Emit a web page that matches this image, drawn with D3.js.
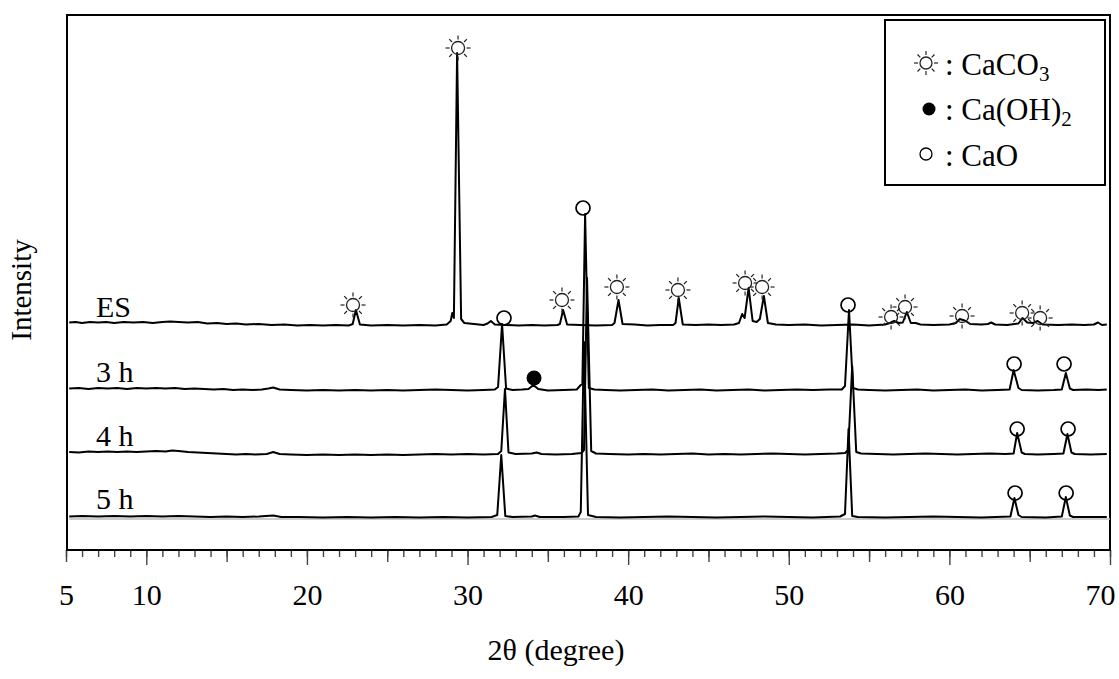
<!DOCTYPE html>
<meta charset="utf-8">
<style>
body { margin: 0; background: #fff; }
text { font-family: "Liberation Serif", "Times New Roman", serif; fill: #000; }
.trace { fill: none; stroke: #000; stroke-width: 2px; stroke-linejoin: round; }
.frame { fill: none; stroke: #000; stroke-width: 2px; }
.tick line { stroke: #444; stroke-width: 1.4px; }
</style>
<svg width="1119" height="679"></svg>
<script src="https://cdn.jsdelivr.net/npm/d3@7"></script>
<script>

// samples, stacked from top to bottom, and the offset (counts) of each baseline
var sampleNames = ["ES", "3 h", "4 h", "5 h"];
var offsets = [2250, 1600, 960, 330];

// patterns: [2theta, counts above own baseline]
var esPattern = [
  [5.2,25],[5.6,30],[6.0,20],[6.5,30],[7.0,25],[7.5,30],[8.0,20],[8.6,30],[9.2,25],[9.8,30],[10.4,20],[11.0,30],
  [11.5,35],[12.0,30],[12.6,25],[13.2,30],[13.8,15],[14.4,20],[15.0,10],[15.6,15],[16.2,5],[17.0,10],[17.8,0],
  [18.6,5],[19.4,-5],[20.2,0],[21.0,-5],[21.8,0],[22.6,-5],[22.85,10],[23.05,150],[23.3,5],[24.0,-5],[25.0,0],
  [26.0,-5],[27.0,0],[28.0,-5],[28.7,5],[28.95,40],[29.05,120],[29.15,70],[29.35,2720],[29.6,60],[29.8,20],
  [30.4,10],[31.0,0],[31.25,15],[31.45,40],[31.7,5],[32.4,0],[33.2,-5],[34.0,0],[34.8,-5],[35.6,0],[35.75,10],
  [35.95,150],[36.2,5],[37.0,0],[38.0,-5],[39.0,0],[39.15,20],[39.4,250],[39.65,10],[40.4,5],[41.2,-5],[42.0,0],
  [42.8,0],[42.95,20],[43.15,270],[43.4,5],[44.2,0],[45.0,5],[45.8,0],[46.6,5],[46.9,20],[47.1,110],[47.25,70],
  [47.5,370],[47.75,40],[48.0,30],[48.2,60],[48.45,290],[48.7,20],[49.2,5],[50.0,0],[51.0,5],[52.0,-5],[53.0,0],
  [54.0,5],[55.0,-5],[56.0,5],[56.3,20],[56.55,40],[56.85,20],[57.1,25],[57.35,130],[57.6,20],[57.9,20],[58.2,5],
  [59.0,0],[60.0,5],[60.4,20],[60.65,60],[60.95,45],[61.3,10],[62.0,5],[62.4,10],[62.6,25],[62.85,5],[63.6,0],
  [64.3,15],[64.55,70],[64.85,25],[65.2,20],[65.5,40],[65.8,5],[66.8,0],[67.6,5],[68.4,0],[69.0,5],[69.25,25],
  [69.5,0],[69.8,5]
];
var h3Pattern = [
  [5.2,15],[5.8,20],[6.4,10],[7.0,20],[7.6,15],[8.2,20],[8.8,10],[9.4,20],[10.0,15],[10.6,20],[11.2,15],[11.8,20],
  [12.4,10],[13.0,15],[13.6,10],[14.2,5],[14.8,10],[15.4,0],[16.0,5],[16.6,0],[17.2,5],[17.6,15],[17.9,25],[18.3,5],
  [19.0,0],[20.0,-5],[21.0,0],[22.0,-5],[23.0,0],[24.0,-5],[25.0,0],[26.0,-5],[27.0,0],[28.0,5],[29.0,0],[30.0,-5],
  [31.0,0],[31.7,5],[31.9,30],[32.15,660],[32.4,15],[32.8,0],[33.4,5],[33.8,10],[34.1,50],[34.4,10],[35.0,-5],
  [36.0,0],[36.8,5],[37.05,50],[37.15,60],[37.32,1760],[37.55,20],[37.9,5],[38.6,0],[39.5,-5],[40.5,0],[41.5,5],
  [42.5,-5],[43.5,0],[44.5,5],[45.5,-5],[46.5,0],[47.5,5],[48.5,-5],[49.5,0],[50.5,5],[51.5,0],[52.5,5],[53.3,5],
  [53.5,40],[53.75,800],[54.0,20],[54.3,5],[55.0,0],[56.0,-5],[57.0,0],[58.0,5],[59.0,-5],[60.0,0],[61.0,5],
  [62.0,-5],[63.0,0],[63.75,5],[64.0,200],[64.3,20],[64.5,0],[65.5,-5],[66.5,0],[67.0,5],[67.25,170],[67.5,15],
  [67.7,0],[68.5,5],[69.3,0],[69.8,5]
];
var h4Pattern = [
  [5.2,20],[5.8,15],[6.4,25],[7.0,20],[7.6,25],[8.2,20],[8.8,25],[9.4,20],[10.0,25],[10.6,30],[11.2,25],[11.6,35],
  [12.0,30],[12.6,20],[13.2,15],[13.8,10],[14.4,5],[15.0,0],[15.6,-5],[16.2,0],[16.8,-5],[17.5,0],[17.9,20],
  [18.3,0],[19.0,-5],[20.0,-10],[21.0,-5],[22.0,-10],[23.0,-5],[24.0,-10],[25.0,-5],[26.0,-10],[27.0,-5],[28.0,0],
  [29.0,-5],[30.0,0],[31.0,-5],[31.9,0],[32.1,30],[32.33,650],[32.55,15],[33.0,0],[34.0,5],[34.3,15],[34.6,0],
  [35.5,-5],[36.5,0],[37.1,10],[37.25,40],[37.44,1760],[37.7,30],[38.0,5],[38.8,0],[40.0,-5],[41.0,0],[42.0,-5],
  [43.0,0],[44.0,5],[45.0,-5],[46.0,0],[47.0,-5],[48.0,0],[49.0,5],[50.0,0],[51.0,-5],[52.0,0],[53.0,5],[53.5,10],
  [53.7,40],[53.95,880],[54.2,20],[54.5,5],[55.5,0],[56.5,-5],[57.5,0],[58.5,5],[59.5,0],[60.5,-5],[61.5,0],
  [62.5,5],[63.5,0],[64.0,5],[64.22,210],[64.5,15],[64.7,0],[65.5,-5],[66.5,0],[67.1,5],[67.35,200],[67.6,15],
  [67.8,0],[68.8,-5],[69.8,0]
];
var h5Pattern = [
  [5.2,5],[6.0,10],[7.0,5],[8.0,10],[9.0,5],[10.0,10],[11.0,5],[12.0,10],[13.0,5],[14.0,0],[15.0,5],[16.0,0],
  [17.0,5],[17.9,15],[18.4,0],[19.5,0],[21.0,-5],[22.5,0],[24.0,-5],[25.5,0],[27.0,-5],[28.5,0],[30.0,-5],[31.5,0],
  [31.85,20],[32.1,620],[32.35,10],[32.8,0],[34.0,5],[34.2,15],[34.5,0],[36.0,0],[36.9,5],[37.05,50],[37.25,1750],
  [37.5,20],[38.0,0],[39.5,-5],[41.0,0],[42.5,5],[44.0,0],[45.5,-5],[47.0,0],[48.5,5],[50.0,0],[51.5,-5],[53.2,5],
  [53.5,30],[53.72,880],[53.95,10],[54.3,0],[56.0,-5],[57.5,0],[59.0,5],[60.5,0],[62.0,-5],[63.8,5],[64.05,190],
  [64.3,20],[64.5,0],[66.0,-5],[67.0,5],[67.25,200],[67.5,15],[67.7,0],[69.8,0]
];
var patterns = [esPattern, h3Pattern, h4Pattern, h5Pattern];

// phase markers: [2theta, counts (absolute, including offset)]
var caco3Marks = [[22.87,2450],[29.41,5020],[35.88,2500],[39.3,2630],[43.1,2600],[47.28,2670],[48.34,2630],
  [56.37,2330],[57.24,2430],[60.79,2340],[64.53,2370],[65.65,2320]];
var caoMarks = [[32.27,2320],[37.19,3420],[53.69,2450],[64.03,1860],[67.14,1860],[64.22,1210],[67.39,1210],
  [64.09,570],[67.27,570]];
var caoh2Marks = [[34.14,1720]];

var xTickLabels = [5, 10, 20, 30, 40, 50, 60, 70];

var svg = d3.select("svg"),
    mLeft = 66, mRight = 1110, mTop = 15, mBottom = 550;

var x = d3.scaleLinear().domain([5, 70]).range([mLeft, mRight]);
var y = d3.scaleLinear().domain([0, 5350]).range([mBottom, mTop]);

// ticks: minor every 1, medium every 5, major every 10
var axisG = svg.append("g").attr("transform", "translate(0," + mBottom + ")");
axisG.append("g").call(d3.axisBottom(x).tickValues(d3.range(5, 71, 1)).tickSize(7).tickFormat(""));
axisG.append("g").call(d3.axisBottom(x).tickValues(d3.range(5, 70, 10)).tickSize(12).tickFormat(""));
axisG.append("g").call(d3.axisBottom(x).tickValues(d3.range(10, 71, 10)).tickSize(15).tickFormat(""));
var lab = axisG.append("g").call(d3.axisBottom(x).tickValues(xTickLabels).tickSize(0).tickPadding(34));
lab.selectAll("text").style("font-size", "30px").style("font-family", "Liberation Serif");
// last label would fall off the page: pull it back inside like the original
lab.selectAll("text").filter(function(d) { return d === 70; })
    .attr("text-anchor", "end").attr("dx", 5);
axisG.selectAll(".domain").remove();

// frame
svg.append("rect").attr("class", "frame")
    .attr("x", mLeft + 1).attr("y", mTop)
    .attr("width", mRight - mLeft - 1).attr("height", mBottom - mTop);

// faint baseline under the 5 h trace
svg.append("line")
    .attr("x1", x(5.2)).attr("x2", x(70))
    .attr("y1", y(offsets[3]) + 2).attr("y2", y(offsets[3]) + 2)
    .attr("stroke", "#bbb").attr("stroke-width", 1.5);

patterns.forEach(function(p, i) {
  var line = d3.line()
      .x(function(d) { return x(d[0]); })
      .y(function(d) { return y(d[1] + offsets[i]); });
  svg.append("path").datum(p)
      .attr("class", "trace")
      .attr("stroke-width", i === 3 ? 1.7 : 2)
      .attr("d", line);
});

// sample labels
svg.selectAll(".sample").data(sampleNames).enter().append("text")
    .attr("class", "sample")
    .attr("x", 96)
    .attr("y", function(d, i) { return y(offsets[i]) - 8; })
    .style("font-size", "30px")
    .text(function(d) { return d; });

function sun(g, cx, cy, r) {
  var s = g.append("g").attr("transform", "translate(" + cx + "," + cy + ")");
  s.append("circle").attr("r", r).attr("fill", "none").attr("stroke", "#222").attr("stroke-width", 1.3);
  d3.range(8).forEach(function(k) {
    var a = k * Math.PI / 4;
    s.append("line")
        .attr("x1", Math.cos(a) * (r + 2)).attr("y1", Math.sin(a) * (r + 2))
        .attr("x2", Math.cos(a) * (r + 6)).attr("y2", Math.sin(a) * (r + 6))
        .attr("stroke", "#222").attr("stroke-width", 1.2);
  });
}

var marks = svg.append("g");
caco3Marks.forEach(function(d) { sun(marks, x(d[0]), y(d[1]), 6.5); });
marks.selectAll(".cao").data(caoMarks).enter().append("circle")
    .attr("cx", function(d) { return x(d[0]); })
    .attr("cy", function(d) { return y(d[1]); })
    .attr("r", 7)
    .attr("fill", "none").attr("stroke", "#000").attr("stroke-width", 1.7);
marks.selectAll(".caoh2").data(caoh2Marks).enter().append("circle")
    .attr("cx", function(d) { return x(d[0]); })
    .attr("cy", function(d) { return y(d[1]); })
    .attr("r", 7.5).attr("fill", "#000");

// axis titles
svg.append("text")
    .attr("x", 556).attr("y", 660)
    .attr("text-anchor", "middle")
    .style("font-size", "30px")
    .text("2θ (degree)");
svg.append("text")
    .attr("transform", "translate(31,290) rotate(-90)")
    .attr("text-anchor", "middle")
    .style("font-size", "29px")
    .text("Intensity");

// legend
var lg = svg.append("g");
lg.append("rect").attr("x", 885).attr("y", 20).attr("width", 220).attr("height", 165)
    .attr("fill", "#fff").attr("stroke", "#000").attr("stroke-width", 2);
sun(lg, 926, 63, 6);
lg.append("circle").attr("cx", 929).attr("cy", 109).attr("r", 6.5).attr("fill", "#000");
lg.append("circle").attr("cx", 926).attr("cy", 154).attr("r", 6).attr("fill", "none")
    .attr("stroke", "#000").attr("stroke-width", 1.3);

var legendRows = [[": CaCO", "3"], [": Ca(OH)", "2"], [": CaO", ""]];
legendRows.forEach(function(r, i) {
  var t = lg.append("text").attr("x", 945).attr("y", [75, 120, 166][i]).style("font-size", "31px");
  t.append("tspan").text(r[0]);
  if (r[1]) t.append("tspan").attr("dy", 6).style("font-size", "21px").text(r[1]);
});

</script>
